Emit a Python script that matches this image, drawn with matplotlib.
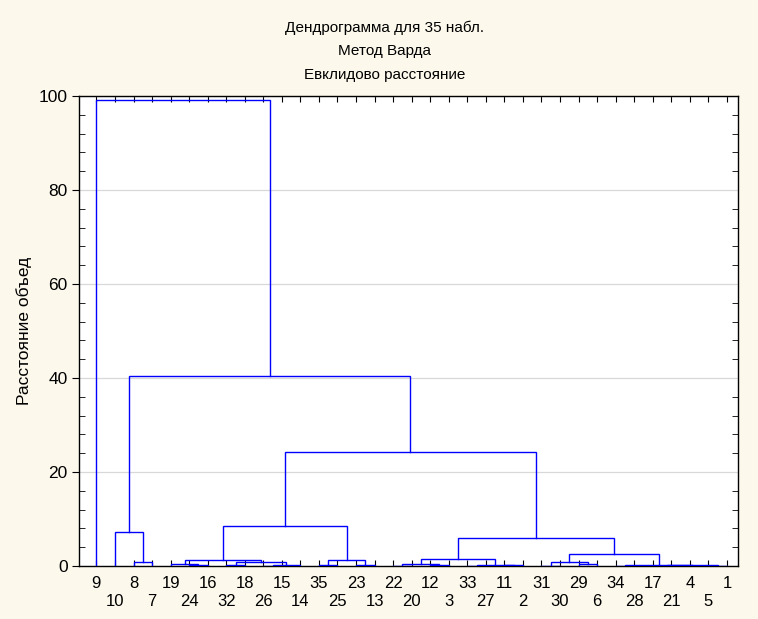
import numpy as np
import matplotlib
matplotlib.use('Agg')
import matplotlib.pyplot as plt
from matplotlib.ticker import MultipleLocator

plt.rcParams['font.family'] = ['Liberation Sans', 'DejaVu Sans']

# Leaf order along the x axis (observation numbers)
leaf_order = [9, 10, 8, 7, 19, 24, 16, 32, 18, 26, 15, 14, 35, 25, 23, 13, 22,
              20, 12, 3, 33, 27, 11, 2, 31, 30, 29, 6, 34, 28, 17, 21, 4, 5, 1]

# Merges: cluster name, left child, right child, linkage distance
# ints are observations, strings are earlier clusters
node_name = ['c1', 'c2', 'c3', 'c4', 'c5', 'c6', 'c7', 'c8', 'c9', 'c10',
             'c11', 'c12', 'c13', 'c14', 'c15', 'c16', 'c17', 'c18', 'c19', 'c20',
             'c21', 'c22', 'c23', 'c24', 'c25', 'c26', 'c27', 'c28', 'c29', 'c30',
             'c31', 'c32', 'c33', 'c34']
node_left = [8, 10, 24, 19, 32, 26, 'c6', 'c5', 'c4', 35,
             23, 'c10', 'c9', 22, 12, 'c14', 33, 11, 'c17', 'c16',
             31, 29, 'c21', 34, 21, 17, 5, 'c26', 'c24', 'c23',
             'c20', 'c13', 'c2', 9]
node_right = [7, 'c1', 16, 'c3', 18, 15, 14, 'c7', 'c8', 25,
              13, 'c11', 'c12', 20, 3, 'c15', 27, 2, 'c18', 'c19',
              30, 6, 'c22', 28, 4, 'c25', 1, 'c27', 'c28', 'c29',
              'c30', 'c31', 'c32', 'c33']
node_height = [0.95, 7.2, 0.2, 0.35, 0.2, 0.1, 0.3, 0.75, 1.35, 0.3,
               0.12, 1.35, 8.45, 0.08, 0.15, 0.45, 0.08, 0.12, 0.25, 1.4,
               0.08, 0.35, 0.92, 0.05, 0.05, 0.1, 0.04, 0.12, 0.2, 2.48,
               5.93, 24.3, 40.5, 99.2]

bg = '#FCF8EC'
fig = plt.figure(figsize=(7.58, 6.19), dpi=100, facecolor=bg)
ax = fig.add_axes([0.1042, 0.0856, 0.8695, 0.7594])
ax.set_facecolor('white')

# positions of leaves and clusters
pos = {leaf: (i, 0.0) for i, leaf in enumerate(leaf_order)}
for name, l, r, h in zip(node_name, node_left, node_right, node_height):
    xl, hl = pos[l]
    xr, hr = pos[r]
    ax.plot([xl, xl, xr, xr], [hl, h, h, hr], color='#0000FF', lw=1.0,
            solid_joinstyle='miter', zorder=3)
    pos[name] = ((xl + xr) / 2, h)

ax.set_xlim(-0.94, 34.6)
ax.set_ylim(0, 100)

# x tick labels on two staggered rows
xlabels = [str(v) if i % 2 == 0 else '\n' + str(v) for i, v in enumerate(leaf_order)]
ax.set_xticks(range(len(leaf_order)))
ax.set_xticklabels(xlabels, fontsize=12)
for t in ax.get_xticklabels():
    t.set_linespacing(1.3)
ax.tick_params(axis='x', which='both', direction='in', top=True, bottom=True,
               length=4, width=0.8, pad=7)

ax.set_yticks([0, 20, 40, 60, 80, 100])
ax.yaxis.set_minor_locator(MultipleLocator(4))
ax.tick_params(axis='y', which='major', direction='out', left=True, right=False,
               length=5, width=0.8, labelsize=12.5, pad=3)
ax.tick_params(axis='y', which='minor', direction='in', left=True, right=True,
               length=4, width=0.6)

ax.grid(axis='y', which='major', color='#D8D8D8', lw=0.9, zorder=0)
for s in ax.spines.values():
    s.set_linewidth(1.0)
    s.set_color('black')

ax.set_ylabel('Расстояние объед', fontsize=12.5, labelpad=5)

fig.text(0.507, 0.955, 'Дендрограмма для 35 набл.', ha='center', va='center', fontsize=11)
fig.text(0.507, 0.918, 'Метод Варда', ha='center', va='center', fontsize=11)
fig.text(0.507, 0.879, 'Евклидово расстояние', ha='center', va='center', fontsize=11)

fig.savefig('out.png', dpi=100, facecolor=bg)
